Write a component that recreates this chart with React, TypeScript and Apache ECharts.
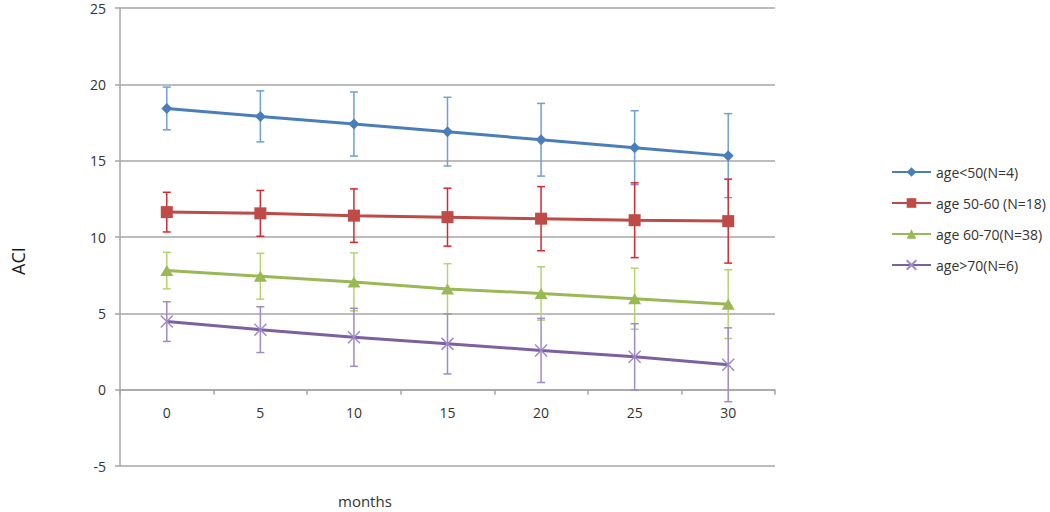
import React, { useEffect, useRef } from "react";
import * as echarts from "echarts";

const months = ["0", "5", "10", "15", "20", "25", "30"];

const seriesNames = ["age<50(N=4)", "age 50-60 (N=18)", "age 60-70(N=38)", "age>70(N=6)"];

const meanLt50 = [18.42, 17.9, 17.4, 16.9, 16.37, 15.85, 15.33];
const errLt50 = [1.4, 1.67, 2.1, 2.25, 2.38, 2.42, 2.75];

const mean5060 = [11.63, 11.55, 11.4, 11.3, 11.2, 11.1, 11.04];
const err5060 = [1.3, 1.5, 1.75, 1.9, 2.1, 2.45, 2.75];

const mean6070 = [7.8, 7.43, 7.06, 6.6, 6.3, 5.96, 5.6];
const err6070 = [1.2, 1.5, 1.9, 1.65, 1.75, 2.0, 2.25];

const meanGt70 = [4.46, 3.93, 3.43, 3.0, 2.57, 2.15, 1.63];
const errGt70 = [1.3, 1.5, 1.9, 1.97, 2.1, 2.17, 2.42];

const yTicks = { min: -5, max: 25, interval: 5 };

const lineColors = ["#4a7ebb", "#be4b48", "#98b954", "#7d60a0"];
const errColors = ["#6f9fd8", "#d8282f", "#b5d470", "#a08ac8"];
const symbols = [
  "diamond",
  "rect",
  "triangle",
  "path://M0,0L10,10M10,0L0,10",
];
const symbolSizes = [11, 12, [13, 11], 12];

const means = [meanLt50, mean5060, mean6070, meanGt70];
const errs = [errLt50, err5060, err6070, errGt70];

const GRID_TOP = 8;
const GRID_BOTTOM = 46;
const CHART_H = 512;

export default function App() {
  const ref = useRef<HTMLDivElement>(null);
  useEffect(() => {
    if (!ref.current) return;
    const chart = echarts.init(ref.current, null, { renderer: "svg" });
    const font = "'Open Sans', Lato, sans-serif";
    const plotH = CHART_H - GRID_TOP - GRID_BOTTOM;
    const zeroOffset = -plotH * (0 - yTicks.min) / (yTicks.max - yTicks.min);
    const series: any[] = [];
    means.forEach((m, si) => {
      series.push({
        type: "custom",
        name: "err" + si,
        z: 1,
        silent: true,
        data: m.map((v, i) => [i, v - errs[si][i], v + errs[si][i]]),
        renderItem: (params: any, api: any) => {
          const idx = api.value(0);
          const lo = api.coord([idx, api.value(1)]);
          const hi = api.coord([idx, api.value(2)]);
          const hw = 4;
          const style = { stroke: errColors[si], lineWidth: 1.5 };
          return {
            type: "group",
            children: [
              { type: "line", shape: { x1: lo[0], y1: lo[1], x2: hi[0], y2: hi[1] }, style },
              { type: "line", shape: { x1: hi[0] - hw, y1: hi[1], x2: hi[0] + hw, y2: hi[1] }, style },
              { type: "line", shape: { x1: lo[0] - hw, y1: lo[1], x2: lo[0] + hw, y2: lo[1] }, style },
            ],
          };
        },
      });
    });
    means.forEach((m, si) => {
      const isX = si === 3;
      series.push({
        type: "line",
        name: seriesNames[si],
        z: 3,
        data: m,
        symbol: symbols[si],
        symbolSize: symbolSizes[si],
        showAllSymbol: true,
        color: lineColors[si],
        lineStyle: { color: lineColors[si], width: 3 },
        itemStyle: isX
          ? { color: lineColors[si], borderColor: errColors[si], borderWidth: 1.5 }
          : { color: lineColors[si] },
      });
    });
    chart.setOption({
      animation: false,
      textStyle: { fontFamily: font },
      grid: { left: 120, right: 275, top: GRID_TOP, bottom: GRID_BOTTOM, containLabel: false, outerBoundsMode: "none" },
      legend: {
        orient: "vertical",
        left: 886,
        top: 160,
        itemWidth: 39,
        itemHeight: 12,
        itemGap: 17,
        data: seriesNames,
        textStyle: { fontFamily: font, fontSize: 14, color: "#333333" },
      },
      graphic: [
        {
          type: "text",
          left: 338,
          top: 493,
          style: { text: "months", fontFamily: font, fontSize: 15, fill: "#333333" },
        },
        {
          type: "text",
          x: 9,
          y: 275,
          rotation: Math.PI / 2,
          style: { text: "ACI", fontFamily: font, fontSize: 18, fill: "#1a1a1a" },
        },
      ],
      xAxis: {
        type: "category",
        data: months,
        boundaryGap: true,
        position: "bottom",
        offset: zeroOffset,
        axisLine: { onZero: false, lineStyle: { color: "#a6a6a6", width: 1.5 } },
        axisTick: { show: true, alignWithLabel: false, length: 5, lineStyle: { color: "#a6a6a6", width: 1.5 } },
        axisLabel: { margin: 16, fontSize: 14, color: "#333333", fontFamily: font },
        splitLine: { show: false },
      },
      yAxis: {
        type: "value",
        min: yTicks.min,
        max: yTicks.max,
        interval: yTicks.interval,
        axisLine: { show: true, lineStyle: { color: "#a6a6a6", width: 1.5 } },
        axisTick: { show: true, length: 5, lineStyle: { color: "#a6a6a6", width: 1.5 } },
        axisLabel: { margin: 14, fontSize: 14, color: "#333333", fontFamily: font },
        splitLine: { show: true, lineStyle: { color: "#a6a6a6", width: 1.5 } },
      },
      series,
    });
    return () => chart.dispose();
  }, []);
  return <div ref={ref} style={{ width: 1050, height: 512, position: "absolute", left: 0, top: 0, background: "#fff" }} />;
}
